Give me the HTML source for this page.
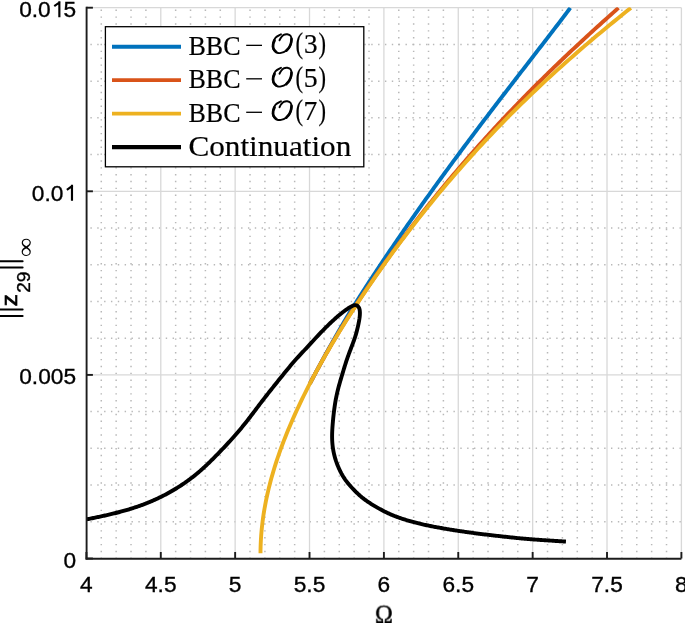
<!DOCTYPE html>
<html><head><meta charset="utf-8"><style>
html,body{margin:0;padding:0;background:#fff;width:685px;height:623px;overflow:hidden}
svg{display:block;will-change:transform}
text{font-family:"Liberation Sans",sans-serif;font-size:22.7px;fill:#000;stroke:#000;stroke-width:0.35px}
.mn{stroke:#b8b8b8;stroke-width:1.5;stroke-dasharray:1.4 5.45}
.mh{stroke-dashoffset:2.85}
.mv{stroke-dashoffset:0.5}
.mj{stroke:#d8d8d8;stroke-width:1.3}
.ax line{stroke:#1c1c1c;stroke-width:1.9}
.tk line{stroke:#262626;stroke-width:1.7}
.cv path{fill:none;stroke-width:3.9;stroke-linejoin:round;stroke-linecap:butt}
.lg{font-family:"Liberation Serif",serif;font-size:27px}
.lgi{font-family:"Liberation Serif",serif;font-style:italic;font-size:26px}
.lgm{font-family:"Liberation Serif",serif;font-size:25px}
.inf{font-family:"Liberation Serif",serif;font-size:22px}
.xl{font-family:"Liberation Serif",serif;font-size:22px}
</style></head><body>
<svg width="685" height="623" viewBox="0 0 685 623">
<defs><clipPath id="ca"><rect x="83.40" y="7.20" width="601.00" height="553.80"/></clipPath></defs>
<g><line x1="101.27" y1="558.50" x2="101.27" y2="7.70" class="mn mv"/>
<line x1="116.15" y1="558.50" x2="116.15" y2="7.70" class="mn mv"/>
<line x1="131.02" y1="558.50" x2="131.02" y2="7.70" class="mn mv"/>
<line x1="145.90" y1="558.50" x2="145.90" y2="7.70" class="mn mv"/>
<line x1="175.65" y1="558.50" x2="175.65" y2="7.70" class="mn mv"/>
<line x1="190.53" y1="558.50" x2="190.53" y2="7.70" class="mn mv"/>
<line x1="205.40" y1="558.50" x2="205.40" y2="7.70" class="mn mv"/>
<line x1="220.28" y1="558.50" x2="220.28" y2="7.70" class="mn mv"/>
<line x1="250.02" y1="558.50" x2="250.02" y2="7.70" class="mn mv"/>
<line x1="264.90" y1="558.50" x2="264.90" y2="7.70" class="mn mv"/>
<line x1="279.77" y1="558.50" x2="279.77" y2="7.70" class="mn mv"/>
<line x1="294.65" y1="558.50" x2="294.65" y2="7.70" class="mn mv"/>
<line x1="324.40" y1="558.50" x2="324.40" y2="7.70" class="mn mv"/>
<line x1="339.28" y1="558.50" x2="339.28" y2="7.70" class="mn mv"/>
<line x1="354.15" y1="558.50" x2="354.15" y2="7.70" class="mn mv"/>
<line x1="369.03" y1="558.50" x2="369.03" y2="7.70" class="mn mv"/>
<line x1="398.77" y1="558.50" x2="398.77" y2="7.70" class="mn mv"/>
<line x1="413.65" y1="558.50" x2="413.65" y2="7.70" class="mn mv"/>
<line x1="428.53" y1="558.50" x2="428.53" y2="7.70" class="mn mv"/>
<line x1="443.40" y1="558.50" x2="443.40" y2="7.70" class="mn mv"/>
<line x1="473.15" y1="558.50" x2="473.15" y2="7.70" class="mn mv"/>
<line x1="488.02" y1="558.50" x2="488.02" y2="7.70" class="mn mv"/>
<line x1="502.90" y1="558.50" x2="502.90" y2="7.70" class="mn mv"/>
<line x1="517.78" y1="558.50" x2="517.78" y2="7.70" class="mn mv"/>
<line x1="547.52" y1="558.50" x2="547.52" y2="7.70" class="mn mv"/>
<line x1="562.40" y1="558.50" x2="562.40" y2="7.70" class="mn mv"/>
<line x1="577.28" y1="558.50" x2="577.28" y2="7.70" class="mn mv"/>
<line x1="592.15" y1="558.50" x2="592.15" y2="7.70" class="mn mv"/>
<line x1="621.90" y1="558.50" x2="621.90" y2="7.70" class="mn mv"/>
<line x1="636.77" y1="558.50" x2="636.77" y2="7.70" class="mn mv"/>
<line x1="651.65" y1="558.50" x2="651.65" y2="7.70" class="mn mv"/>
<line x1="666.52" y1="558.50" x2="666.52" y2="7.70" class="mn mv"/>
<line x1="86.40" y1="521.78" x2="681.40" y2="521.78" class="mn mh"/>
<line x1="86.40" y1="485.06" x2="681.40" y2="485.06" class="mn mh"/>
<line x1="86.40" y1="448.34" x2="681.40" y2="448.34" class="mn mh"/>
<line x1="86.40" y1="411.62" x2="681.40" y2="411.62" class="mn mh"/>
<line x1="86.40" y1="338.18" x2="681.40" y2="338.18" class="mn mh"/>
<line x1="86.40" y1="301.46" x2="681.40" y2="301.46" class="mn mh"/>
<line x1="86.40" y1="264.74" x2="681.40" y2="264.74" class="mn mh"/>
<line x1="86.40" y1="228.02" x2="681.40" y2="228.02" class="mn mh"/>
<line x1="86.40" y1="154.58" x2="681.40" y2="154.58" class="mn mh"/>
<line x1="86.40" y1="117.86" x2="681.40" y2="117.86" class="mn mh"/>
<line x1="86.40" y1="81.14" x2="681.40" y2="81.14" class="mn mh"/>
<line x1="86.40" y1="44.42" x2="681.40" y2="44.42" class="mn mh"/>
<line x1="160.78" y1="558.50" x2="160.78" y2="7.70" class="mj"/>
<line x1="235.15" y1="558.50" x2="235.15" y2="7.70" class="mj"/>
<line x1="309.52" y1="558.50" x2="309.52" y2="7.70" class="mj"/>
<line x1="383.90" y1="558.50" x2="383.90" y2="7.70" class="mj"/>
<line x1="458.27" y1="558.50" x2="458.27" y2="7.70" class="mj"/>
<line x1="532.65" y1="558.50" x2="532.65" y2="7.70" class="mj"/>
<line x1="607.02" y1="558.50" x2="607.02" y2="7.70" class="mj"/>
<line x1="681.40" y1="558.50" x2="681.40" y2="7.70" class="mj"/>
<line x1="86.40" y1="374.90" x2="681.40" y2="374.90" class="mj"/>
<line x1="86.40" y1="191.30" x2="681.40" y2="191.30" class="mj"/>
<line x1="86.40" y1="7.70" x2="681.40" y2="7.70" class="mj"/></g>
<g class="cv" clip-path="url(#ca)"><path d="M309.94,383.50 L311.18,381.14 L312.42,378.78 L313.67,376.41 L314.93,374.05 L316.20,371.69 L317.47,369.33 L318.74,366.96 L320.02,364.60 L321.31,362.24 L322.60,359.88 L323.90,357.52 L325.20,355.15 L326.50,352.79 L327.81,350.43 L329.13,348.07 L330.45,345.70 L331.77,343.34 L333.10,340.98 L334.44,338.62 L335.78,336.25 L337.13,333.89 L338.48,331.53 L339.84,329.17 L341.21,326.81 L342.59,324.44 L343.98,322.08 L345.38,319.72 L346.79,317.36 L348.21,314.99 L349.64,312.63 L351.09,310.27 L352.56,307.91 L354.04,305.55 L355.52,303.18 L357.01,300.82 L358.51,298.46 L360.01,296.10 L361.52,293.73 L363.03,291.37 L364.55,289.01 L366.08,286.65 L367.61,284.28 L369.14,281.92 L370.68,279.56 L372.23,277.20 L373.78,274.84 L375.34,272.47 L376.90,270.11 L378.47,267.75 L380.04,265.39 L381.61,263.02 L383.19,260.66 L384.78,258.30 L386.37,255.94 L387.96,253.58 L389.56,251.21 L391.16,248.85 L392.77,246.49 L394.38,244.13 L396.00,241.76 L397.62,239.40 L399.25,237.04 L400.87,234.68 L402.51,232.32 L404.14,229.95 L405.79,227.59 L407.43,225.23 L409.08,222.87 L410.73,220.50 L412.39,218.14 L414.05,215.78 L415.71,213.42 L417.38,211.05 L419.05,208.69 L420.73,206.33 L422.41,203.97 L424.09,201.61 L425.78,199.24 L427.47,196.88 L429.16,194.52 L430.86,192.16 L432.56,189.79 L434.26,187.43 L435.97,185.07 L437.68,182.71 L439.40,180.35 L441.12,177.98 L442.84,175.62 L444.56,173.26 L446.29,170.90 L448.02,168.53 L449.76,166.17 L451.49,163.81 L453.23,161.45 L454.98,159.08 L456.73,156.72 L458.48,154.36 L460.23,152.00 L461.99,149.64 L463.75,147.27 L465.51,144.91 L467.27,142.55 L469.04,140.19 L470.81,137.82 L472.59,135.46 L474.36,133.10 L476.14,130.74 L477.93,128.38 L479.71,126.01 L481.50,123.65 L483.29,121.29 L485.08,118.93 L486.88,116.56 L488.67,114.20 L490.47,111.84 L492.28,109.48 L494.08,107.12 L495.89,104.75 L497.70,102.39 L499.51,100.03 L501.32,97.67 L503.13,95.30 L504.95,92.94 L506.77,90.58 L508.59,88.22 L510.41,85.85 L512.23,83.49 L514.05,81.13 L515.88,78.77 L517.70,76.41 L519.53,74.04 L521.35,71.68 L523.18,69.32 L525.01,66.96 L526.84,64.59 L528.66,62.23 L530.49,59.87 L532.32,57.51 L534.15,55.15 L535.98,52.78 L537.80,50.42 L539.63,48.06 L541.45,45.70 L543.28,43.33 L545.10,40.97 L546.92,38.61 L548.74,36.25 L550.55,33.88 L552.37,31.52 L554.18,29.16 L555.98,26.80 L557.79,24.44 L559.59,22.07 L561.39,19.71 L563.18,17.35 L564.97,14.99 L566.76,12.62 L568.54,10.26 L570.31,7.90" stroke="#0072BD"/><path d="M309.94,383.50 L311.18,381.14 L312.42,378.78 L313.68,376.41 L314.94,374.05 L316.21,371.69 L317.49,369.33 L318.78,366.96 L320.08,364.60 L321.38,362.24 L322.70,359.88 L324.02,357.52 L325.36,355.15 L326.70,352.79 L328.05,350.43 L329.41,348.07 L330.78,345.70 L332.16,343.34 L333.55,340.98 L334.95,338.62 L336.36,336.25 L337.78,333.89 L339.21,331.53 L340.65,329.17 L342.10,326.81 L343.56,324.44 L345.02,322.08 L346.50,319.72 L347.99,317.36 L349.49,314.99 L351.00,312.63 L352.53,310.27 L354.06,307.91 L355.60,305.55 L357.15,303.18 L358.70,300.82 L360.27,298.46 L361.84,296.10 L363.42,293.73 L365.01,291.37 L366.61,289.01 L368.22,286.65 L369.83,284.28 L371.45,281.92 L373.08,279.56 L374.72,277.20 L376.36,274.84 L378.02,272.47 L379.68,270.11 L381.35,267.75 L383.02,265.39 L384.71,263.02 L386.40,260.66 L388.10,258.30 L389.81,255.94 L391.52,253.58 L393.25,251.21 L394.98,248.85 L396.72,246.49 L398.46,244.13 L400.22,241.76 L401.98,239.40 L403.75,237.04 L405.53,234.68 L407.31,232.32 L409.11,229.95 L410.91,227.59 L412.72,225.23 L414.54,222.87 L416.36,220.50 L418.19,218.14 L420.04,215.78 L421.89,213.42 L423.74,211.05 L425.61,208.69 L427.49,206.33 L429.37,203.97 L431.26,201.61 L433.16,199.24 L435.07,196.88 L436.98,194.52 L438.91,192.16 L440.84,189.79 L442.79,187.43 L444.74,185.07 L446.70,182.71 L448.66,180.35 L450.64,177.98 L452.63,175.62 L454.62,173.26 L456.63,170.90 L458.64,168.53 L460.66,166.17 L462.69,163.81 L464.73,161.45 L466.78,159.08 L468.84,156.72 L470.91,154.36 L472.99,152.00 L475.08,149.64 L477.17,147.27 L479.28,144.91 L481.40,142.55 L483.52,140.19 L485.66,137.82 L487.80,135.46 L489.96,133.10 L492.12,130.74 L494.30,128.38 L496.48,126.01 L498.68,123.65 L500.88,121.29 L503.10,118.93 L505.32,116.56 L507.56,114.20 L509.80,111.84 L512.06,109.48 L514.32,107.12 L516.60,104.75 L518.88,102.39 L521.18,100.03 L523.49,97.67 L525.80,95.30 L528.13,92.94 L530.47,90.58 L532.82,88.22 L535.17,85.85 L537.54,83.49 L539.92,81.13 L542.31,78.77 L544.71,76.41 L547.12,74.04 L549.54,71.68 L551.97,69.32 L554.41,66.96 L556.86,64.59 L559.32,62.23 L561.79,59.87 L564.27,57.51 L566.76,55.15 L569.26,52.78 L571.77,50.42 L574.29,48.06 L576.82,45.70 L579.36,43.33 L581.91,40.97 L584.46,38.61 L587.03,36.25 L589.61,33.88 L592.19,31.52 L594.78,29.16 L597.39,26.80 L600.00,24.44 L602.62,22.07 L605.24,19.71 L607.88,17.35 L610.52,14.99 L613.17,12.62 L615.83,10.26 L618.49,7.90" stroke="#D95319"/><path d="M260.49,553.30 L260.52,549.87 L260.61,546.44 L260.74,543.01 L260.91,539.58 L261.13,536.15 L261.40,532.72 L261.71,529.29 L262.07,525.86 L262.47,522.43 L262.91,519.00 L263.40,515.57 L263.93,512.14 L264.50,508.71 L265.12,505.28 L265.77,501.85 L266.47,498.42 L267.21,494.99 L267.99,491.56 L268.80,488.13 L269.66,484.70 L270.55,481.27 L271.49,477.84 L272.46,474.41 L273.46,470.98 L274.51,467.55 L275.58,464.12 L276.70,460.68 L277.85,457.25 L279.03,453.82 L280.24,450.39 L281.49,446.96 L282.78,443.53 L284.09,440.10 L285.43,436.67 L286.81,433.24 L288.22,429.81 L289.65,426.38 L291.12,422.95 L292.62,419.52 L294.14,416.09 L295.69,412.66 L297.27,409.23 L298.88,405.80 L300.51,402.37 L302.17,398.94 L303.85,395.51 L305.56,392.08 L307.29,388.65 L309.05,385.22 L310.84,381.79 L312.64,378.36 L314.47,374.93 L316.32,371.50 L318.20,368.07 L320.09,364.64 L322.01,361.21 L323.95,357.78 L325.91,354.35 L327.89,350.92 L329.89,347.49 L331.92,344.06 L333.96,340.63 L336.02,337.20 L338.10,333.77 L340.20,330.34 L342.32,326.91 L344.46,323.48 L346.62,320.05 L348.79,316.62 L350.99,313.19 L353.20,309.76 L355.43,306.33 L357.68,302.90 L359.94,299.47 L362.23,296.04 L364.53,292.61 L366.85,289.18 L369.18,285.75 L371.54,282.32 L373.91,278.88 L376.30,275.45 L378.70,272.02 L381.13,268.59 L383.57,265.16 L386.03,261.73 L388.51,258.30 L391.00,254.87 L393.51,251.44 L396.05,248.01 L398.59,244.58 L401.16,241.15 L403.75,237.72 L406.35,234.29 L408.97,230.86 L411.62,227.43 L414.28,224.00 L416.96,220.57 L419.66,217.14 L422.37,213.71 L425.11,210.28 L427.87,206.85 L430.65,203.42 L433.45,199.99 L436.27,196.56 L439.11,193.13 L441.97,189.70 L444.86,186.27 L447.76,182.84 L450.69,179.41 L453.64,175.98 L456.61,172.55 L459.61,169.12 L462.63,165.69 L465.67,162.26 L468.74,158.83 L471.83,155.40 L474.94,151.97 L478.08,148.54 L481.25,145.11 L484.44,141.68 L487.65,138.25 L490.89,134.82 L494.16,131.39 L497.46,127.96 L500.78,124.53 L504.12,121.10 L507.50,117.67 L510.90,114.24 L514.33,110.81 L517.79,107.38 L521.28,103.95 L524.79,100.52 L528.34,97.08 L531.91,93.65 L535.51,90.22 L539.15,86.79 L542.81,83.36 L546.50,79.93 L550.22,76.50 L553.97,73.07 L557.75,69.64 L561.56,66.21 L565.40,62.78 L569.27,59.35 L573.17,55.92 L577.10,52.49 L581.06,49.06 L585.05,45.63 L589.07,42.20 L593.12,38.77 L597.20,35.34 L601.31,31.91 L605.45,28.48 L609.62,25.05 L613.81,21.62 L618.04,18.19 L622.29,14.76 L626.57,11.33 L630.88,7.90" stroke="#EDB120"/><path d="M86.40,519.40 L87.38,519.20 L88.36,519.01 L89.34,518.81 L90.32,518.62 L91.30,518.42 L92.28,518.22 L93.26,518.02 L94.24,517.82 L95.22,517.62 L96.20,517.42 L97.18,517.21 L98.16,517.01 L99.14,516.80 L100.11,516.59 L101.09,516.38 L102.07,516.16 L103.04,515.95 L104.02,515.73 L105.00,515.51 L105.97,515.29 L106.95,515.07 L107.92,514.84 L108.90,514.62 L109.87,514.39 L110.84,514.16 L111.82,513.93 L112.79,513.70 L113.76,513.46 L114.73,513.23 L115.70,512.99 L116.67,512.74 L117.64,512.50 L118.61,512.25 L119.58,512.00 L120.54,511.74 L121.51,511.48 L122.47,511.22 L123.44,510.96 L124.40,510.69 L125.36,510.41 L126.32,510.13 L127.28,509.85 L128.24,509.57 L129.20,509.28 L130.15,508.98 L131.11,508.69 L132.06,508.39 L133.01,508.08 L133.96,507.77 L134.91,507.46 L135.86,507.15 L136.81,506.83 L137.75,506.50 L138.70,506.18 L139.64,505.84 L140.58,505.51 L141.52,505.17 L142.46,504.82 L143.40,504.47 L144.33,504.12 L145.26,503.76 L146.19,503.39 L147.12,503.02 L148.05,502.65 L148.98,502.27 L149.90,501.89 L150.82,501.50 L151.74,501.11 L152.66,500.71 L153.57,500.31 L154.48,499.90 L155.40,499.49 L156.31,499.08 L157.21,498.66 L158.12,498.23 L159.02,497.81 L159.92,497.37 L160.82,496.94 L161.72,496.49 L162.61,496.05 L163.50,495.60 L164.39,495.14 L165.28,494.68 L166.16,494.21 L167.04,493.74 L167.92,493.26 L168.80,492.78 L169.67,492.30 L170.54,491.81 L171.41,491.31 L172.28,490.81 L173.14,490.30 L174.00,489.79 L174.85,489.28 L175.71,488.76 L176.56,488.23 L177.41,487.71 L178.25,487.17 L179.10,486.64 L179.94,486.10 L180.77,485.55 L181.61,485.00 L182.44,484.45 L183.27,483.89 L184.10,483.33 L184.92,482.76 L185.74,482.19 L186.56,481.61 L187.37,481.03 L188.18,480.45 L188.99,479.86 L189.79,479.26 L190.59,478.66 L191.39,478.06 L192.18,477.45 L192.97,476.84 L193.76,476.22 L194.54,475.60 L195.32,474.97 L196.09,474.34 L196.86,473.71 L197.63,473.06 L198.39,472.42 L199.15,471.77 L199.91,471.12 L200.66,470.46 L201.41,469.80 L202.15,469.13 L202.90,468.46 L203.64,467.79 L204.37,467.11 L205.10,466.43 L205.84,465.75 L206.56,465.06 L207.29,464.38 L208.01,463.68 L208.73,462.99 L209.45,462.29 L210.16,461.60 L210.88,460.90 L211.59,460.19 L212.30,459.49 L213.01,458.78 L213.71,458.08 L214.42,457.37 L215.12,456.66 L215.83,455.95 L216.53,455.23 L217.23,454.52 L217.92,453.80 L218.62,453.09 L219.32,452.37 L220.01,451.65 L220.71,450.93 L221.40,450.21 L222.09,449.49 L222.78,448.76 L223.47,448.04 L224.16,447.31 L224.84,446.58 L225.53,445.85 L226.21,445.12 L226.89,444.39 L227.57,443.66 L228.25,442.92 L228.93,442.19 L229.60,441.45 L230.28,440.71 L230.95,439.97 L231.62,439.23 L232.28,438.48 L232.95,437.74 L233.62,436.99 L234.28,436.24 L234.94,435.49 L235.60,434.74 L236.25,433.99 L236.91,433.23 L237.56,432.47 L238.21,431.72 L238.86,430.95 L239.51,430.19 L240.15,429.43 L240.80,428.66 L241.44,427.89 L242.07,427.12 L242.71,426.35 L243.34,425.58 L243.97,424.80 L244.60,424.02 L245.22,423.24 L245.85,422.46 L246.47,421.68 L247.09,420.89 L247.70,420.10 L248.32,419.31 L248.93,418.52 L249.54,417.73 L250.15,416.94 L250.76,416.14 L251.36,415.35 L251.97,414.55 L252.57,413.75 L253.17,412.96 L253.78,412.16 L254.38,411.36 L254.98,410.56 L255.58,409.76 L256.18,408.96 L256.78,408.17 L257.39,407.37 L257.99,406.57 L258.59,405.77 L259.19,404.97 L259.80,404.18 L260.40,403.38 L261.01,402.59 L261.62,401.79 L262.23,401.00 L262.84,400.21 L263.45,399.42 L264.06,398.62 L264.67,397.83 L265.29,397.05 L265.90,396.26 L266.52,395.47 L267.14,394.68 L267.76,393.90 L268.38,393.11 L269.00,392.33 L269.62,391.54 L270.24,390.76 L270.86,389.98 L271.48,389.19 L272.10,388.41 L272.73,387.63 L273.35,386.85 L273.97,386.07 L274.60,385.28 L275.22,384.50 L275.85,383.72 L276.47,382.94 L277.10,382.16 L277.72,381.38 L278.35,380.60 L278.97,379.82 L279.60,379.04 L280.23,378.26 L280.86,377.48 L281.48,376.71 L282.11,375.93 L282.74,375.15 L283.37,374.37 L284.00,373.60 L284.63,372.82 L285.26,372.04 L285.89,371.27 L286.52,370.49 L287.16,369.72 L287.79,368.95 L288.43,368.18 L289.06,367.40 L289.70,366.64 L290.34,365.87 L290.99,365.10 L291.63,364.34 L292.28,363.58 L292.93,362.82 L293.58,362.06 L294.24,361.31 L294.90,360.55 L295.56,359.80 L296.22,359.06 L296.89,358.31 L297.56,357.57 L298.23,356.83 L298.91,356.09 L299.59,355.36 L300.27,354.63 L300.95,353.89 L301.63,353.16 L302.31,352.43 L303.00,351.70 L303.68,350.98 L304.37,350.25 L305.05,349.52 L305.74,348.79 L306.42,348.06 L307.11,347.33 L307.79,346.60 L308.47,345.87 L309.15,345.14 L309.83,344.40 L310.51,343.67 L311.18,342.93 L311.86,342.19 L312.53,341.46 L313.21,340.72 L313.88,339.98 L314.56,339.24 L315.23,338.51 L315.91,337.77 L316.59,337.04 L317.27,336.31 L317.96,335.58 L318.64,334.85 L319.33,334.12 L320.02,333.40 L320.71,332.68 L321.40,331.96 L322.10,331.24 L322.80,330.52 L323.50,329.81 L324.20,329.10 L324.90,328.39 L325.61,327.68 L326.32,326.97 L327.03,326.27 L327.74,325.57 L328.45,324.87 L329.17,324.17 L329.89,323.48 L330.62,322.79 L331.34,322.10 L332.07,321.42 L332.81,320.74 L333.54,320.07 L334.29,319.40 L335.03,318.73 L335.77,318.06 L336.52,317.40 L337.27,316.74 L338.03,316.09 L338.79,315.44 L339.56,314.80 L340.33,314.17 L341.11,313.54 L341.89,312.91 L342.67,312.30 L343.47,311.69 L344.26,311.08 L345.07,310.49 L345.88,309.90 L346.69,309.32 L347.52,308.76 L348.35,308.21 L349.20,307.68 L350.06,307.17 L350.93,306.68 L351.82,306.22 L352.72,305.79 L353.64,305.42 L354.58,305.16 L355.53,305.10 L356.45,305.29 L357.30,305.72 L358.03,306.34 L358.63,307.11 L359.10,307.97 L359.44,308.90 L359.65,309.87 L359.79,310.85 L359.87,311.84 L359.91,312.84 L359.89,313.83 L359.85,314.83 L359.78,315.82 L359.68,316.82 L359.56,317.81 L359.43,318.80 L359.27,319.78 L359.11,320.77 L358.93,321.75 L358.74,322.73 L358.55,323.71 L358.34,324.69 L358.13,325.66 L357.91,326.64 L357.68,327.61 L357.44,328.58 L357.21,329.55 L356.96,330.52 L356.71,331.48 L356.45,332.45 L356.18,333.41 L355.91,334.37 L355.62,335.33 L355.32,336.28 L355.02,337.23 L354.71,338.18 L354.39,339.12 L354.06,340.07 L353.73,341.01 L353.39,341.95 L353.04,342.89 L352.69,343.82 L352.34,344.76 L351.98,345.69 L351.63,346.63 L351.27,347.56 L350.91,348.49 L350.55,349.43 L350.20,350.36 L349.84,351.30 L349.49,352.23 L349.14,353.17 L348.80,354.11 L348.46,355.05 L348.12,355.99 L347.78,356.93 L347.45,357.87 L347.13,358.82 L346.80,359.76 L346.49,360.71 L346.17,361.66 L345.86,362.61 L345.56,363.56 L345.26,364.52 L344.96,365.47 L344.66,366.43 L344.37,367.38 L344.08,368.34 L343.79,369.29 L343.50,370.25 L343.21,371.21 L342.93,372.17 L342.64,373.13 L342.35,374.08 L342.07,375.04 L341.78,376.00 L341.49,376.96 L341.21,377.92 L340.92,378.87 L340.64,379.83 L340.36,380.79 L340.08,381.75 L339.80,382.71 L339.53,383.67 L339.26,384.64 L338.99,385.60 L338.73,386.56 L338.47,387.53 L338.22,388.50 L337.97,389.47 L337.73,390.44 L337.50,391.41 L337.27,392.38 L337.04,393.35 L336.83,394.33 L336.62,395.31 L336.42,396.28 L336.22,397.26 L336.03,398.25 L335.84,399.23 L335.66,400.21 L335.49,401.19 L335.32,402.18 L335.16,403.17 L335.00,404.15 L334.85,405.14 L334.70,406.13 L334.56,407.12 L334.42,408.11 L334.29,409.10 L334.16,410.09 L334.03,411.08 L333.91,412.07 L333.79,413.07 L333.67,414.06 L333.56,415.05 L333.45,416.05 L333.34,417.04 L333.24,418.04 L333.14,419.03 L333.05,420.03 L332.95,421.02 L332.86,422.02 L332.78,423.01 L332.69,424.01 L332.62,425.01 L332.54,426.00 L332.47,427.00 L332.40,428.00 L332.34,429.00 L332.29,429.99 L332.24,430.99 L332.19,431.99 L332.16,432.99 L332.13,433.99 L332.11,434.98 L332.10,435.98 L332.10,436.98 L332.12,437.98 L332.14,438.97 L332.17,439.97 L332.22,440.97 L332.28,441.96 L332.35,442.96 L332.44,443.95 L332.53,444.94 L332.64,445.93 L332.77,446.92 L332.90,447.91 L333.05,448.89 L333.22,449.88 L333.39,450.86 L333.58,451.84 L333.79,452.81 L334.00,453.79 L334.23,454.76 L334.47,455.72 L334.73,456.69 L334.99,457.65 L335.27,458.61 L335.57,459.56 L335.87,460.51 L336.19,461.45 L336.51,462.40 L336.85,463.33 L337.21,464.27 L337.57,465.20 L337.94,466.12 L338.33,467.04 L338.72,467.95 L339.13,468.86 L339.55,469.77 L339.98,470.67 L340.42,471.56 L340.88,472.45 L341.34,473.33 L341.82,474.20 L342.31,475.07 L342.82,475.93 L343.33,476.78 L343.87,477.62 L344.41,478.45 L344.97,479.27 L345.55,480.08 L346.13,480.89 L346.73,481.68 L347.35,482.46 L347.97,483.24 L348.61,484.01 L349.25,484.77 L349.90,485.52 L350.56,486.27 L351.23,487.01 L351.91,487.75 L352.59,488.48 L353.27,489.20 L353.96,489.92 L354.66,490.64 L355.37,491.35 L356.08,492.05 L356.79,492.75 L357.51,493.44 L358.24,494.12 L358.98,494.79 L359.72,495.46 L360.47,496.11 L361.23,496.76 L362.00,497.39 L362.77,498.02 L363.56,498.64 L364.35,499.25 L365.15,499.84 L365.95,500.43 L366.77,501.01 L367.58,501.58 L368.41,502.14 L369.24,502.69 L370.08,503.23 L370.92,503.77 L371.77,504.30 L372.62,504.83 L373.47,505.34 L374.33,505.86 L375.19,506.37 L376.05,506.87 L376.92,507.37 L377.79,507.87 L378.66,508.36 L379.53,508.84 L380.41,509.32 L381.28,509.80 L382.16,510.27 L383.05,510.74 L383.94,511.20 L384.83,511.65 L385.72,512.09 L386.62,512.53 L387.52,512.96 L388.43,513.38 L389.33,513.79 L390.25,514.20 L391.16,514.59 L392.08,514.98 L393.01,515.36 L393.93,515.73 L394.86,516.10 L395.80,516.45 L396.73,516.80 L397.67,517.15 L398.61,517.49 L399.55,517.82 L400.50,518.14 L401.45,518.47 L402.39,518.78 L403.34,519.09 L404.29,519.40 L405.25,519.70 L406.20,520.00 L407.16,520.29 L408.11,520.58 L409.07,520.86 L410.03,521.14 L410.99,521.42 L411.96,521.69 L412.92,521.96 L413.88,522.22 L414.85,522.48 L415.82,522.73 L416.78,522.98 L417.75,523.22 L418.72,523.46 L419.70,523.70 L420.67,523.93 L421.64,524.16 L422.62,524.38 L423.59,524.60 L424.57,524.81 L425.55,525.02 L426.52,525.23 L427.50,525.44 L428.48,525.64 L429.46,525.83 L430.44,526.03 L431.42,526.22 L432.41,526.41 L433.39,526.60 L434.37,526.79 L435.35,526.97 L436.34,527.15 L437.32,527.33 L438.30,527.51 L439.29,527.69 L440.27,527.86 L441.26,528.04 L442.24,528.21 L443.23,528.39 L444.21,528.56 L445.20,528.73 L446.18,528.90 L447.17,529.06 L448.15,529.23 L449.14,529.39 L450.13,529.56 L451.11,529.72 L452.10,529.88 L453.09,530.04 L454.08,530.20 L455.06,530.35 L456.05,530.51 L457.04,530.66 L458.03,530.81 L459.02,530.96 L460.01,531.11 L460.99,531.26 L461.98,531.40 L462.97,531.55 L463.96,531.69 L464.95,531.84 L465.94,531.98 L466.93,532.12 L467.92,532.26 L468.91,532.39 L469.90,532.53 L470.89,532.67 L471.89,532.80 L472.88,532.94 L473.87,533.07 L474.86,533.20 L475.85,533.33 L476.84,533.46 L477.83,533.58 L478.83,533.71 L479.82,533.84 L480.81,533.96 L481.80,534.08 L482.79,534.21 L483.79,534.33 L484.78,534.45 L485.77,534.56 L486.77,534.68 L487.76,534.80 L488.75,534.92 L489.75,535.03 L490.74,535.14 L491.73,535.26 L492.73,535.37 L493.72,535.48 L494.71,535.60 L495.71,535.71 L496.70,535.82 L497.69,535.93 L498.69,536.04 L499.68,536.15 L500.68,536.26 L501.67,536.37 L502.66,536.48 L503.66,536.59 L504.65,536.70 L505.65,536.81 L506.64,536.92 L507.63,537.03 L508.63,537.13 L509.62,537.24 L510.62,537.35 L511.61,537.45 L512.61,537.56 L513.60,537.66 L514.60,537.76 L515.59,537.87 L516.59,537.97 L517.58,538.07 L518.58,538.16 L519.57,538.26 L520.57,538.35 L521.56,538.45 L522.56,538.54 L523.55,538.63 L524.55,538.72 L525.55,538.81 L526.54,538.89 L527.54,538.97 L528.54,539.06 L529.53,539.14 L530.53,539.22 L531.53,539.30 L532.52,539.37 L533.52,539.45 L534.52,539.52 L535.51,539.60 L536.51,539.67 L537.51,539.74 L538.51,539.81 L539.50,539.88 L540.50,539.95 L541.50,540.02 L542.50,540.08 L543.49,540.15 L544.49,540.22 L545.49,540.28 L546.49,540.35 L547.49,540.41 L548.48,540.48 L549.48,540.54 L550.48,540.61 L551.48,540.67 L552.48,540.73 L553.47,540.80 L554.47,540.86 L555.47,540.93 L556.47,540.99 L557.47,541.05 L558.46,541.12 L559.46,541.18 L560.46,541.24 L561.46,541.30 L562.46,541.37 L563.45,541.43 L564.45,541.49 L565.45,541.56 L565.95,541.59" stroke="#000" stroke-width="4.1"/></g>
<g class="ax"><line x1="86.40" y1="558.50" x2="86.40" y2="552.00"/>
<line x1="160.78" y1="558.50" x2="160.78" y2="552.00"/>
<line x1="235.15" y1="558.50" x2="235.15" y2="552.00"/>
<line x1="309.52" y1="558.50" x2="309.52" y2="552.00"/>
<line x1="383.90" y1="558.50" x2="383.90" y2="552.00"/>
<line x1="458.27" y1="558.50" x2="458.27" y2="552.00"/>
<line x1="532.65" y1="558.50" x2="532.65" y2="552.00"/>
<line x1="607.02" y1="558.50" x2="607.02" y2="552.00"/>
<line x1="681.40" y1="558.50" x2="681.40" y2="552.00"/>
<line x1="86.40" y1="558.50" x2="92.90" y2="558.50"/>
<line x1="86.40" y1="374.90" x2="92.90" y2="374.90"/>
<line x1="86.40" y1="191.30" x2="92.90" y2="191.30"/>
<line x1="86.40" y1="7.70" x2="92.90" y2="7.70"/>
<line x1="85.50" y1="558.70" x2="681.40" y2="558.70"/>
<line x1="86.60" y1="559.60" x2="86.60" y2="6.80"/>
</g>
<g><rect x="105.4" y="26.7" width="258.4" height="140.1" fill="#fff" stroke="#000" stroke-width="1.3"/><line x1="112" y1="46.70" x2="181" y2="46.70" stroke="#0072BD" stroke-width="3.9"/><text transform="translate(188.52,54.72) scale(0.9192,1)" style="font-family:'Liberation Serif',serif;stroke-width:0.2px;font-size:28.25px">BBC</text><rect x="246.2" y="44.70" width="15.8" height="1.3" fill="#000"/><path d="M281.00,34.30 C280.10,34.85 276.95,36.07 275.60,37.60 C274.25,39.13 273.27,41.55 272.90,43.50 C272.53,45.45 272.72,47.77 273.40,49.30 C274.08,50.83 275.73,52.10 277.00,52.70 C278.27,53.30 279.50,53.23 281.00,52.90 C282.50,52.57 284.50,51.82 286.00,50.70 C287.50,49.58 289.07,47.93 290.00,46.20 C290.93,44.47 291.52,42.03 291.60,40.30 C291.68,38.57 291.22,36.80 290.50,35.80 C289.78,34.80 288.43,34.45 287.30,34.30 C286.17,34.15 284.75,34.35 283.70,34.90 C282.65,35.45 281.70,36.70 281.00,37.60 C280.30,38.50 279.75,39.85 279.50,40.30" fill="none" stroke="#000" stroke-width="1.9" stroke-linecap="round"/><path d="M274.60,40.50 C274.37,41.17 273.37,43.12 273.20,44.50 C273.03,45.88 273.10,47.55 273.60,48.80 C274.10,50.05 275.77,51.47 276.20,52.00" fill="none" stroke="#000" stroke-width="2.6" stroke-linecap="round"/><path d="M291.50,39.00 C291.42,39.67 291.38,41.62 291.00,43.00 C290.62,44.38 289.97,46.03 289.20,47.30 C288.43,48.57 286.87,50.05 286.40,50.60" fill="none" stroke="#000" stroke-width="2.6" stroke-linecap="round"/><text transform="translate(295.38,53.12) scale(0.7702,1)" style="font-family:'Liberation Serif',serif;stroke-width:0.2px;font-size:29.53px">(</text><text transform="translate(304.01,53.13) scale(1.0033,1)" style="font-family:'Liberation Serif',serif;stroke-width:0.2px;font-size:27.06px">3</text><text transform="translate(318.57,53.12) scale(0.7627,1)" style="font-family:'Liberation Serif',serif;stroke-width:0.2px;font-size:29.53px">)</text><line x1="112" y1="80.17" x2="181" y2="80.17" stroke="#D95319" stroke-width="3.9"/><text transform="translate(188.52,88.19) scale(0.9192,1)" style="font-family:'Liberation Serif',serif;stroke-width:0.2px;font-size:28.25px">BBC</text><rect x="246.2" y="78.17" width="15.8" height="1.3" fill="#000"/><path d="M281.00,67.77 C280.10,68.32 276.95,69.54 275.60,71.07 C274.25,72.60 273.27,75.02 272.90,76.97 C272.53,78.92 272.72,81.24 273.40,82.77 C274.08,84.30 275.73,85.57 277.00,86.17 C278.27,86.77 279.50,86.70 281.00,86.37 C282.50,86.04 284.50,85.29 286.00,84.17 C287.50,83.05 289.07,81.40 290.00,79.67 C290.93,77.94 291.52,75.50 291.60,73.77 C291.68,72.04 291.22,70.27 290.50,69.27 C289.78,68.27 288.43,67.92 287.30,67.77 C286.17,67.62 284.75,67.82 283.70,68.37 C282.65,68.92 281.70,70.17 281.00,71.07 C280.30,71.97 279.75,73.32 279.50,73.77" fill="none" stroke="#000" stroke-width="1.9" stroke-linecap="round"/><path d="M274.60,73.97 C274.37,74.64 273.37,76.59 273.20,77.97 C273.03,79.35 273.10,81.02 273.60,82.27 C274.10,83.52 275.77,84.94 276.20,85.47" fill="none" stroke="#000" stroke-width="2.6" stroke-linecap="round"/><path d="M291.50,72.47 C291.42,73.14 291.38,75.09 291.00,76.47 C290.62,77.85 289.97,79.50 289.20,80.77 C288.43,82.04 286.87,83.52 286.40,84.07" fill="none" stroke="#000" stroke-width="2.6" stroke-linecap="round"/><text transform="translate(295.38,86.59) scale(0.7702,1)" style="font-family:'Liberation Serif',serif;stroke-width:0.2px;font-size:29.53px">(</text><text transform="translate(303.70,86.60) scale(1.0167,1)" style="font-family:'Liberation Serif',serif;stroke-width:0.2px;font-size:27.37px">5</text><text transform="translate(318.57,86.59) scale(0.7627,1)" style="font-family:'Liberation Serif',serif;stroke-width:0.2px;font-size:29.53px">)</text><line x1="112" y1="113.64" x2="181" y2="113.64" stroke="#EDB120" stroke-width="3.9"/><text transform="translate(188.52,121.66) scale(0.9192,1)" style="font-family:'Liberation Serif',serif;stroke-width:0.2px;font-size:28.25px">BBC</text><rect x="246.2" y="111.64" width="15.8" height="1.3" fill="#000"/><path d="M281.00,101.24 C280.10,101.79 276.95,103.01 275.60,104.54 C274.25,106.07 273.27,108.49 272.90,110.44 C272.53,112.39 272.72,114.71 273.40,116.24 C274.08,117.77 275.73,119.04 277.00,119.64 C278.27,120.24 279.50,120.17 281.00,119.84 C282.50,119.51 284.50,118.76 286.00,117.64 C287.50,116.52 289.07,114.87 290.00,113.14 C290.93,111.41 291.52,108.97 291.60,107.24 C291.68,105.51 291.22,103.74 290.50,102.74 C289.78,101.74 288.43,101.39 287.30,101.24 C286.17,101.09 284.75,101.29 283.70,101.84 C282.65,102.39 281.70,103.64 281.00,104.54 C280.30,105.44 279.75,106.79 279.50,107.24" fill="none" stroke="#000" stroke-width="1.9" stroke-linecap="round"/><path d="M274.60,107.44 C274.37,108.11 273.37,110.06 273.20,111.44 C273.03,112.82 273.10,114.49 273.60,115.74 C274.10,116.99 275.77,118.41 276.20,118.94" fill="none" stroke="#000" stroke-width="2.6" stroke-linecap="round"/><path d="M291.50,105.94 C291.42,106.61 291.38,108.56 291.00,109.94 C290.62,111.32 289.97,112.97 289.20,114.24 C288.43,115.51 286.87,116.99 286.40,117.54" fill="none" stroke="#000" stroke-width="2.6" stroke-linecap="round"/><text transform="translate(295.38,120.06) scale(0.7702,1)" style="font-family:'Liberation Serif',serif;stroke-width:0.2px;font-size:29.53px">(</text><text transform="translate(303.50,120.34) scale(0.9953,1)" style="font-family:'Liberation Serif',serif;stroke-width:0.2px;font-size:27.79px">7</text><text transform="translate(318.57,120.06) scale(0.7627,1)" style="font-family:'Liberation Serif',serif;stroke-width:0.2px;font-size:29.53px">)</text><line x1="112" y1="147.1" x2="181" y2="147.1" stroke="#000" stroke-width="4.1"/><text transform="translate(188.45,156.00) scale(1.0431,1)" style="font-family:'Liberation Serif',serif;stroke-width:0.2px;font-size:29.89px">Continuation</text></g>
<g><text x="86.40" y="592.2" text-anchor="middle">4</text>
<text x="160.78" y="592.2" text-anchor="middle">4.5</text>
<text x="235.15" y="592.2" text-anchor="middle">5</text>
<text x="309.52" y="592.2" text-anchor="middle">5.5</text>
<text x="383.90" y="592.2" text-anchor="middle">6</text>
<text x="458.27" y="592.2" text-anchor="middle">6.5</text>
<text x="532.65" y="592.2" text-anchor="middle">7</text>
<text x="607.02" y="592.2" text-anchor="middle">7.5</text>
<text x="681.40" y="592.2" text-anchor="middle">8</text>
<text x="76.0" y="568.00" text-anchor="end">0</text>
<text x="76.0" y="384.40" text-anchor="end">0.005</text>
<text x="76.0" y="200.80" text-anchor="end">0.0<tspan style="fill:none;stroke:none">1</tspan></text>
<path d="M71.98,184.80 L71.98,200.80 M72.68,185.60 L66.88,189.80" fill="none" stroke="#000" stroke-width="2.15"/>
<text x="76.0" y="17.20" text-anchor="end">0.0<tspan style="fill:none;stroke:none">1</tspan>5</text>
<path d="M59.36,1.20 L59.36,17.20 M60.06,2.00 L54.26,6.20" fill="none" stroke="#000" stroke-width="2.15"/></g>
<line x1="-2" y1="316.00" x2="22.6" y2="316.00" stroke="#000" stroke-width="2.0" stroke-linecap="round"/><line x1="-2" y1="309.60" x2="22.6" y2="309.60" stroke="#000" stroke-width="2.0" stroke-linecap="round"/><line x1="-2" y1="267.60" x2="22.6" y2="267.60" stroke="#000" stroke-width="2.0" stroke-linecap="round"/><line x1="-2" y1="261.20" x2="22.6" y2="261.20" stroke="#000" stroke-width="2.0" stroke-linecap="round"/><text transform="translate(17.30,306.17) rotate(-90) scale(1.1076,1)" style="font-family:'Liberation Sans',sans-serif;font-size:21.80px;stroke-width:0.7px">z</text><text transform="translate(29.61,292.86) rotate(-90) scale(1.0244,1)" style="font-family:'Liberation Sans',sans-serif;font-size:18.66px">29</text><text transform="translate(32.77,257.02) rotate(-90) scale(1.1458,1)" style="font-family:'Liberation Serif',serif;font-size:23.68px;stroke-width:0">∞</text>
<text transform="translate(374.94,623.60) scale(0.8956,1)" style="font-family:'Liberation Serif',serif;stroke-width:0.2px;font-size:26.87px;stroke-width:0.5px">Ω</text>
</svg>
</body></html>
